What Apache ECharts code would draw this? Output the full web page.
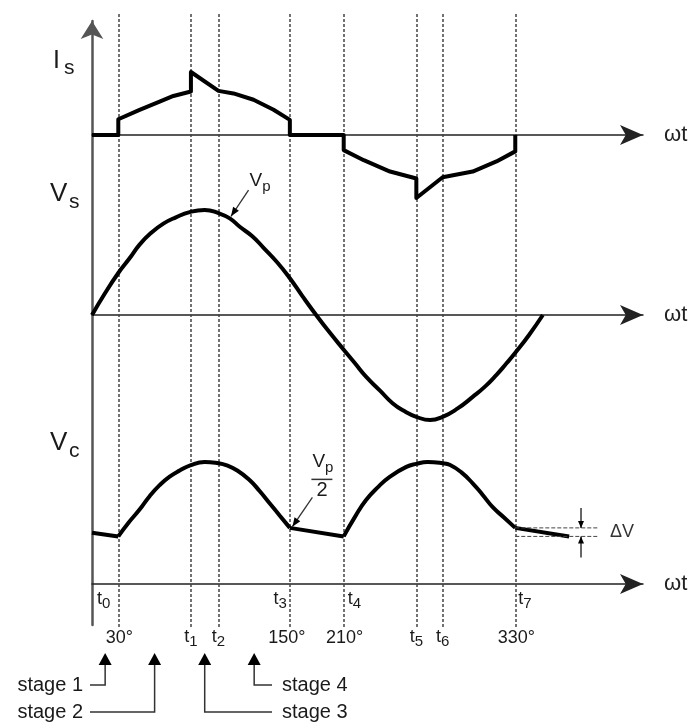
<!DOCTYPE html>
<html>
<head>
<meta charset="utf-8">
<script src="https://cdn.jsdelivr.net/npm/echarts@6/dist/echarts.min.js"></script>
<style>
  html, body { margin: 0; padding: 0; background: #fff; }
  #chart { width: 694px; height: 725px; }
</style>
</head>
<body>
<div id="chart"></div>
<script>
// x in drawing units: one period of the supply voltage = 360
var tNames = ["0", "1", "2", "3", "4", "5", "6", "7"];
var tPos = [21, 79, 101, 158, 201, 259, 280, 338];
var degLabels = ["30°", "150°", "210°", "330°"]; // under t0, t3, t4, t7

// source current (1 = spike height)
var isData = [
  [0, 0], [21, 0], [21, 0.25], [38, 0.40], [54, 0.53], [65, 0.62], [79, 0.69],
  [79, 1.0], [101, 0.70], [113, 0.66], [129, 0.56], [145, 0.40], [158, 0.24],
  [158, 0], [201, 0], [201, -0.24], [217, -0.40], [238, -0.58], [259, -0.69],
  [259, -1.0], [280, -0.67], [304, -0.58], [323, -0.42], [338, -0.26], [338, 0]
];
// source voltage (1 = Vp)
var vsData = [
  [0, 0], [10, 0.20], [21, 0.40], [30, 0.54], [38, 0.67], [47, 0.78], [57, 0.87],
  [67, 0.93], [78, 0.98], [90, 1.0], [101, 0.97], [110, 0.92], [118, 0.84],
  [128, 0.75], [137, 0.64], [148, 0.50], [158, 0.35], [168, 0.18], [179, 0],
  [190, -0.17], [201, -0.33], [210, -0.46], [219, -0.59], [230, -0.72],
  [240, -0.84], [250, -0.92], [259, -0.97], [270, -1.0], [280, -0.97],
  [292, -0.89], [304, -0.78], [314, -0.68], [323, -0.57], [331, -0.46],
  [338, -0.36], [349, -0.19], [360, 0]
];
// capacitor voltage (1 = Vp)
var vcHump1 = [
  [21, 0.39], [29, 0.50], [38, 0.61], [46, 0.72], [54, 0.81], [62, 0.88], [70, 0.93],
  [79, 0.975], [90, 1.0], [101, 0.99], [107, 0.975], [116, 0.93], [126, 0.85],
  [134, 0.76], [142, 0.66], [150, 0.56], [158, 0.46]
];
var vcHump2 = [
  [201, 0.39], [210, 0.55], [219, 0.69], [229, 0.80], [238, 0.88], [251, 0.96],
  [259, 0.985], [268, 1.0], [280, 0.99], [286, 0.975], [295, 0.915], [304, 0.825],
  [312, 0.73], [320, 0.63], [329, 0.545], [338, 0.46]
];
var vcDecay1 = [[0, 0.42], [21, 0.39]];
var vcDecay2 = [[158, 0.46], [201, 0.39]];
var vcDecay3 = [[338, 0.46], [381, 0.39]];

var stageNames = ["stage 1", "stage 2", "stage 3", "stage 4"];
var stageSpan = [[0, 21], [21, 79], [79, 101], [101, 158]];

var FONT = '"Liberation Sans", Arial, sans-serif';
var X_MAX = 440;

var chart = echarts.init(document.getElementById("chart"));

function waveAxis(i) {
  return {
    gridIndex: i, type: "value", min: 0, max: X_MAX,
    axisLine: {
      show: true, onZero: true,
      symbol: ["none", "arrow"], symbolSize: [15, 23],
      lineStyle: { color: "#222", width: 1.5 }
    },
    axisTick: { show: false }, axisLabel: { show: false }, splitLine: { show: false },
    name: "ωt", nameLocation: "end", nameGap: 21,
    nameTextStyle: { fontSize: 22, color: "#222", fontFamily: FONT }
  };
}
function hiddenY(i, min, max) {
  return { gridIndex: i, type: "value", min: min, max: max, show: false };
}
function wave(data, i, smooth) {
  return {
    type: "line", xAxisIndex: i, yAxisIndex: i, data: data,
    smooth: smooth, symbol: "none", silent: true, clip: false, z: 5,
    lineStyle: { color: "#000", width: 4, join: "round" }
  };
}

var option = {
  animation: false,
  backgroundColor: "#fff",
  grid: [
    { left: 92, right: 51, top: 72, bottom: 527 },     // Is
    { left: 92, right: 51, top: 157.5, bottom: 305 },  // Vs
    { left: 92, right: 51, top: 462, bottom: 141 },    // Vc
    { left: 92, right: 51, top: 12, bottom: 98 },      // dashed guides
    { left: 92, right: 51, top: 21, bottom: 100 }      // vertical axis
  ],
  xAxis: [
    waveAxis(0), waveAxis(1), waveAxis(2),
    { gridIndex: 3, type: "value", min: 0, max: X_MAX, show: false },
    { gridIndex: 4, type: "value", min: 0, max: X_MAX, show: false }
  ],
  yAxis: [
    hiddenY(0, -1, 1), hiddenY(1, -1, 1.5), hiddenY(2, 0, 1), hiddenY(3, 0, 1),
    {
      gridIndex: 4, type: "value", min: 0, max: 1,
      axisLine: {
        show: true, symbol: ["none", "arrow"], symbolSize: [17, 18],
        lineStyle: { color: "#555", width: 2.5 }
      },
      axisTick: { show: false }, axisLabel: { show: false }, splitLine: { show: false }
    }
  ],
  series: [
    {
      type: "line", xAxisIndex: 3, yAxisIndex: 3, data: [[0, 0]], symbol: "none",
      lineStyle: { opacity: 0 }, silent: true, z: 1,
      markLine: {
        silent: true, symbol: ["none", "none"], label: { show: false },
        lineStyle: { color: "#444", width: 1.5, type: [3, 2] },
        data: tPos.map(function (x) { return { xAxis: x }; })
      }
    },
    wave(isData, 0, false),
    wave(vsData, 1, 0.5),
    wave(vcDecay1, 2, false),
    wave(vcHump1, 2, 0.5),
    wave(vcDecay2, 2, false),
    wave(vcHump2, 2, 0.5),
    wave(vcDecay3, 2, false)
  ]
};
chart.setOption(option);

// ---- annotations, placed through the grids' scales ----
var ctx = document.createElement("canvas").getContext("2d");
function tw(s, size) { ctx.font = size + "px " + FONT; return ctx.measureText(s).width; }
function px(g, x, y) { return chart.convertToPixel({ gridIndex: g }, [x, y]); }
function txt(s, x, y, size, color) {
  return {
    type: "text", x: x, y: y, silent: true, z: 20,
    style: {
      text: s, font: size + "px " + FONT, fill: color || "#1a1a1a",
      align: "left", verticalAlign: "middle", textAlign: "left", textVerticalAlign: "middle"
    }
  };
}
// main text with subscript; anchor = left/right/center of the pair
function subLabel(main, sub, x, y, size, subSize, dy, anchor) {
  var w1 = tw(main, size), w2 = tw(sub, subSize), w = w1 + w2;
  var left = anchor === "right" ? x - w : anchor === "center" ? x - w / 2 : x;
  return [txt(main, left, y, size), txt(sub, left + w1, y + dy, subSize)];
}
function seg(a, b, color, width, dash) {
  return {
    type: "line", silent: true, z: 15,
    shape: { x1: a[0], y1: a[1], x2: b[0], y2: b[1] },
    style: { stroke: color, lineWidth: width, lineDash: dash || null }
  };
}
function head(tip, from, len, wid) {
  var dx = tip[0] - from[0], dy = tip[1] - from[1], d = Math.sqrt(dx * dx + dy * dy);
  var ux = dx / d, uy = dy / d, bx = tip[0] - ux * len, by = tip[1] - uy * len;
  return {
    type: "polygon", silent: true, z: 16,
    shape: { points: [tip, [bx - uy * wid / 2, by + ux * wid / 2], [bx + uy * wid / 2, by - ux * wid / 2]] },
    style: { fill: "#000" }
  };
}

var g = [];
// black tip on the vertical axis
var top = px(4, 0, 1);
g.push(head([top[0], top[1] - 9], [top[0], top[1] + 20], 18, 17));

// panel labels
g.push(txt("I", 53, 61.5, 25), txt("s", 64, 68.5, 21));
g.push(txt("V", 50, 194, 26), txt("s", 69, 202.5, 21));
g.push(txt("V", 50, 442.5, 26), txt("c", 69, 451, 21));

// t labels and angles
var lx = tPos.map(function (x) { return px(3, x, 0)[0]; });
var row1 = 599, row2 = 637;
g = g.concat(subLabel("t", tNames[0], lx[0] - 8, row1, 18, 15, 5, "right"));
g = g.concat(subLabel("t", tNames[3], lx[3] - 3, row1, 18, 15, 5, "right"));
g = g.concat(subLabel("t", tNames[4], lx[4] + 4, row1, 18, 15, 5, "left"));
g = g.concat(subLabel("t", tNames[7], lx[7] + 3, row1, 18, 15, 5, "left"));
[1, 2, 5, 6].forEach(function (i) {
  g = g.concat(subLabel("t", tNames[i], lx[i], row2, 18, 15, 5, "center"));
});
[0, 3, 4, 7].forEach(function (i, k) {
  var s = degLabels[k], w = tw(s, 18);
  g.push(txt(s, lx[i] - w / 2 + (k === 1 ? -3 : 1), row2 + 1, 18));
});

// Vp leader on the source voltage peak
var a0 = px(1, 125, 1.19), a1 = px(1, 111, 0.94);
g.push(seg(a0, a1, "#333", 1.3), head(a1, a0, 9, 7));
g = g.concat(subLabel("V", "p", a0[0] + 1, a0[1] - 9.5, 19, 15, 6, "left"));

// Vp/2 leader on the capacitor voltage
var b0 = px(2, 176, 0.71), b1 = px(2, 160, 0.47);
g.push(seg(b0, b1, "#333", 1.3), head(b1, b0, 9, 7));
g = g.concat(subLabel("V", "p", b0[0], b0[1] - 35.5, 19, 15, 6, "left"));
g.push(seg([b0[0] - 1, b0[1] - 18], [b0[0] + 20, b0[1] - 18], "#333", 1.5));
g.push(txt("2", b0[0] + 4, b0[1] - 7, 20));

// delta V marker
var lastA = vcDecay3[0], lastB = vcDecay3[1];
var d0 = px(2, lastA[0], lastA[1]), d1 = px(2, lastB[0], lastB[1]);
var dEnd = px(2, 404, 0)[0], dx = px(2, 390.5, 0)[0];
g.push(seg([d0[0], d0[1]], [dEnd, d0[1]], "#444", 1, [4, 2]));
g.push(seg([d0[0], d1[1]], [dEnd, d1[1]], "#444", 1, [4, 2]));
g.push(seg([dx, d0[1] - 20], [dx, d0[1]], "#000", 1.2), head([dx, d0[1]], [dx, d0[1] - 20], 7, 6));
g.push(seg([dx, d1[1] + 21], [dx, d1[1]], "#000", 1.2), head([dx, d1[1]], [dx, d1[1] + 21], 7, 6));
g.push(txt("ΔV", dEnd + 12, (d0[1] + d1[1]) / 2, 18, "#333"));

// stage pointers
stageNames.forEach(function (name, i) {
  var x = px(3, (stageSpan[i][0] + stageSpan[i][1]) / 2, 0)[0];
  var low = i === 1 || i === 2;
  var y = low ? 712 : 685;
  var toRight = i >= 2;
  var xEnd = toRight ? 272 : 90;
  g.push(head([x, 653], [x, 670], 12, 13));
  g.push({
    type: "polyline", silent: true, z: 15,
    shape: { points: [[x, 664], [x, y], [xEnd, y]] },
    style: { stroke: "#333", lineWidth: 1.5, fill: null }
  });
  var w = tw(name, 20);
  g.push(txt(name, toRight ? 282 : 83 - w, y, 20));
});

chart.setOption({ graphic: { elements: g } });
</script>
</body>
</html>
